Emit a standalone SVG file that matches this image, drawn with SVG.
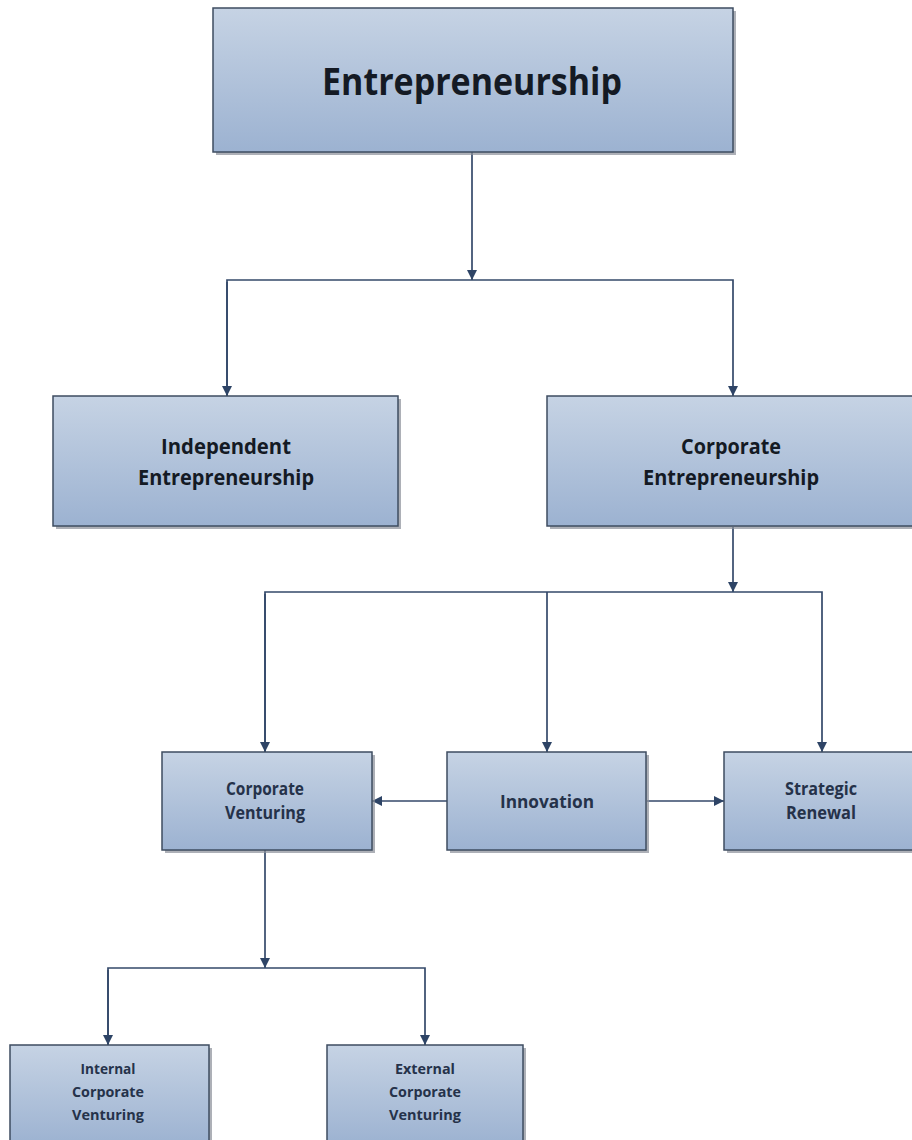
<svg xmlns="http://www.w3.org/2000/svg" width="912" height="1140" viewBox="0 0 912 1140">
<style>
.box{fill:url(#g);stroke:#3e4c60;stroke-width:1.5}
.sh{fill:#8a8f99;opacity:0.7}
.t{font-family:"Open Sans","Noto Sans",sans-serif;font-weight:bold;fill:#141a24;text-anchor:middle}
.t2{font-family:"Open Sans","Noto Sans",sans-serif;font-weight:bold;fill:#25324a;text-anchor:middle}
.c{fill:none;stroke:#34496a;stroke-width:1.7}
</style>
<defs>
<linearGradient id="g" x1="0" y1="0" x2="0" y2="1">
<stop offset="0" stop-color="#c6d3e4"/>
<stop offset="1" stop-color="#9cb2d1"/>
</linearGradient>
<marker id="a" viewBox="0 0 10 10" refX="10" refY="5" markerWidth="12" markerHeight="10" markerUnits="userSpaceOnUse" orient="auto">
<path d="M0,0 L10,5 L0,10 z" fill="#2e4466"/>
</marker>
</defs>
<rect width="912" height="1140" fill="#ffffff"/>
<g id="connectors">
<line class="c" x1="472" y1="152" x2="472" y2="280" marker-end="url(#a)"/>
<polyline class="c" points="227,396 227,280 733,280 733,396" marker-end="url(#a)"/>
<line class="c" x1="227" y1="282" x2="227" y2="396" marker-end="url(#a)"/>
<line class="c" x1="733" y1="527" x2="733" y2="592" marker-end="url(#a)"/>
<polyline class="c" points="265,752 265,592 822,592 822,752" marker-end="url(#a)"/>
<line class="c" x1="265" y1="594" x2="265" y2="752" marker-end="url(#a)"/>
<line class="c" x1="547" y1="592" x2="547" y2="752" marker-end="url(#a)"/>
<line class="c" x1="447" y1="801" x2="372" y2="801" marker-end="url(#a)"/>
<line class="c" x1="647" y1="801" x2="724" y2="801" marker-end="url(#a)"/>
<line class="c" x1="265" y1="850" x2="265" y2="968" marker-end="url(#a)"/>
<polyline class="c" points="108,1045 108,968 425,968 425,1045" marker-end="url(#a)"/>
<line class="c" x1="108" y1="970" x2="108" y2="1045" marker-end="url(#a)"/>
</g>
<g id="entrepreneurship">
<rect class="sh" x="216" y="11" width="520" height="144"/>
<rect class="box" x="213" y="8" width="520" height="144"/>
<text class="t" x="472" y="95" font-size="37" textLength="300" lengthAdjust="spacingAndGlyphs">Entrepreneurship</text>
</g>
<g id="independent">
<rect class="sh" x="56" y="399" width="345" height="130"/>
<rect class="box" x="53" y="396" width="345" height="130"/>
<text class="t" x="226" y="454" font-size="21" textLength="130" lengthAdjust="spacingAndGlyphs">Independent</text>
<text class="t" x="226" y="485" font-size="21" textLength="176" lengthAdjust="spacingAndGlyphs">Entrepreneurship</text>
</g>
<g id="corporate-entrepreneurship">
<rect class="sh" x="550" y="399" width="370" height="130"/>
<rect class="box" x="547" y="396" width="370" height="130"/>
<text class="t" x="731" y="454" font-size="21" textLength="100" lengthAdjust="spacingAndGlyphs">Corporate</text>
<text class="t" x="731" y="485" font-size="21" textLength="176" lengthAdjust="spacingAndGlyphs">Entrepreneurship</text>
</g>
<g id="corporate-venturing">
<rect class="sh" x="165" y="755" width="210" height="98"/>
<rect class="box" x="162" y="752" width="210" height="98"/>
<text class="t2" x="265" y="795" font-size="18" textLength="78" lengthAdjust="spacingAndGlyphs">Corporate</text>
<text class="t2" x="265" y="819" font-size="18" textLength="80" lengthAdjust="spacingAndGlyphs">Venturing</text>
</g>
<g id="innovation">
<rect class="sh" x="450" y="755" width="199" height="98"/>
<rect class="box" x="447" y="752" width="199" height="98"/>
<text class="t2" x="547" y="808" font-size="18" textLength="94" lengthAdjust="spacingAndGlyphs">Innovation</text>
</g>
<g id="strategic-renewal">
<rect class="sh" x="727" y="755" width="195" height="98"/>
<rect class="box" x="724" y="752" width="195" height="98"/>
<text class="t2" x="821" y="795" font-size="18" textLength="72" lengthAdjust="spacingAndGlyphs">Strategic</text>
<text class="t2" x="821" y="819" font-size="18" textLength="70" lengthAdjust="spacingAndGlyphs">Renewal</text>
</g>
<g id="internal">
<rect class="sh" x="13" y="1048" width="199" height="100"/>
<rect class="box" x="10" y="1045" width="199" height="100"/>
<text class="t2" x="108" y="1074" font-size="14" textLength="55" lengthAdjust="spacingAndGlyphs">Internal</text>
<text class="t2" x="108" y="1097" font-size="14" textLength="72" lengthAdjust="spacingAndGlyphs">Corporate</text>
<text class="t2" x="108" y="1120" font-size="14" textLength="72" lengthAdjust="spacingAndGlyphs">Venturing</text>
</g>
<g id="external">
<rect class="sh" x="330" y="1048" width="196" height="100"/>
<rect class="box" x="327" y="1045" width="196" height="100"/>
<text class="t2" x="425" y="1074" font-size="14" textLength="60" lengthAdjust="spacingAndGlyphs">External</text>
<text class="t2" x="425" y="1097" font-size="14" textLength="72" lengthAdjust="spacingAndGlyphs">Corporate</text>
<text class="t2" x="425" y="1120" font-size="14" textLength="72" lengthAdjust="spacingAndGlyphs">Venturing</text>
</g>
</svg>
